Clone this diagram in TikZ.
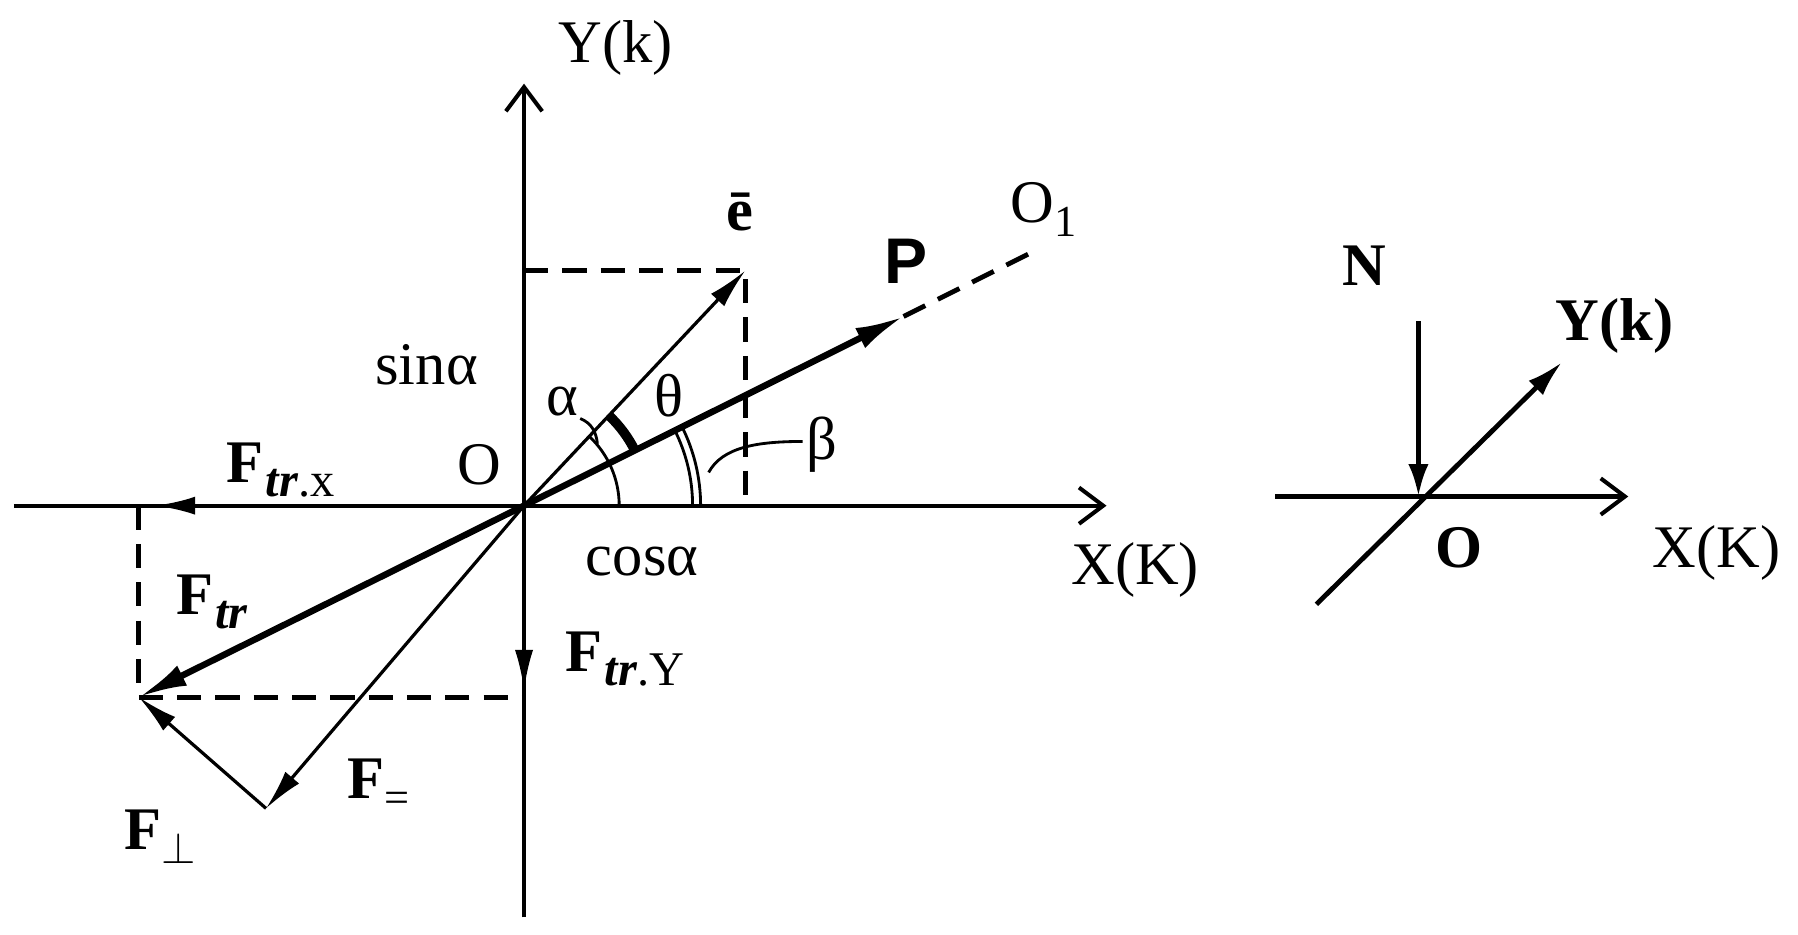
\documentclass[tikz,border=0pt]{standalone}
\usepackage{fontspec}
\setmainfont{Liberation Serif}
\newfontfamily\sansbf{Liberation Sans}
\usepackage{tikz}
\usetikzlibrary{arrows.meta}
\newcommand{\Fsub}[2]{\textbf{F}\kern0.5pt\raisebox{-0.5ex}{\fontsize{12}{12}\selectfont\textbf{\textit{#1}}#2}}

\begin{document}
\begin{tikzpicture}[x=0.01cm,y=0.01cm,
    font=\fontsize{15}{17}\selectfont,
    axis/.style={line width=1pt,-{Straight Barb[length=6pt,width=9pt,line width=1pt]}},
    vecthin/.style={line width=0.8pt,-{Latex[length=10pt,width=4.5pt]}},
    vecthick/.style={line width=1.6pt,-{Latex[length=12pt,width=5.5pt]}},
    guide/.style={line width=1.2pt,dash pattern=on 6pt off 3.5pt}]
    \useasboundingbox (0,0) rectangle (1568,815);
    % main diagram
    \coordinate (O) at (457,374);
    \coordinate (xl) at (12,374);
    \coordinate (xr) at (965,374);
    \coordinate (yt) at (457,742);
    \coordinate (yb) at (457,15);
    \coordinate (etip) at (650,579);
    \coordinate (sinp) at (457,579);
    \coordinate (cosp) at (650,374);
    \coordinate (Ptip) at (788,539);
    \coordinate (O1end) at (904,597);
    \coordinate (Ftr) at (121,207);
    \coordinate (Ftrxfoot) at (121,374);
    \coordinate (Ftrx) at (135,374);
    \coordinate (Ftryfoot) at (457,207);
    \coordinate (Ftry) at (457,213);
    \coordinate (Fpar) at (232,110);
    %
    \draw[axis] (xl) -- (xr);
    \draw[axis] (yb) -- (yt);
    \draw[guide] (sinp) -- (etip) -- (cosp);
    \draw[vecthin] (O) -- (etip);
    \draw[vecthick] (O) -- (Ptip);
    \draw[guide] (Ptip) -- (O1end);
    \draw[vecthick] (O) -- (Ftr);
    \draw[vecthin,line width=1pt] (O) -- (Ftrx);
    \draw[guide] (Ftrxfoot) -- (Ftr) -- (Ftryfoot);
    \draw[vecthin] (O) -- (Ftry);
    \draw[vecthin] (O) -- (Fpar);
    \draw[vecthin] (Fpar) -- (Ftr);
    % angles
    \draw[line width=0.7pt] (O) ++(83,0) arc[start angle=0,end angle=46.7,radius=83];
    \draw[line width=2.4pt] (O) ++(26.5:108) arc[start angle=26.5,end angle=46.7,radius=108];
    \draw[line width=0.7pt] (O) ++(147,0) arc[start angle=0,end angle=26.5,radius=147];
    \draw[line width=0.7pt] (O) ++(154,0) arc[start angle=0,end angle=26.5,radius=154];
    \draw[line width=0.7pt] (506,450) .. controls (516,446) and (520,438) .. (521,428);
    \draw[line width=0.7pt] (618,403) .. controls (630,425) and (660,430) .. (700,430);
    %
    \node (ylab) at (537,773) {Y(k)};
    \node (xlab) at (990,318) {X(K)};
    \node (olab) at (418,410) {O};
    \node (sinlab) at (372,497) {sinα};
    \node (coslab) at (560,325) {cosα};
    \node (elab) at (645,630) {\textbf{\={e}}};
    \node (plab) at (790,587) {\sansbf\bfseries\fontsize{16}{18}\selectfont P};
    \node (o1lab) at (910,632) {O\raisebox{-0.5ex}{\fontsize{11}{11}\selectfont 1}};
    \node (alab) at (490,465) {α};
    \node (tlab) at (583,470) {θ};
    \node (blab) at (717,427) {β};
    \node (ftrxlab) at (245,405) {\Fsub{tr}{.x}};
    \node (ftrlab) at (185,290) {\Fsub{tr}{}};
    \node (ftrylab) at (545,240) {\Fsub{tr}{.Y}};
    \node (fparlab) at (330,130) {\textbf{F}\raisebox{-0.5ex}{\fontsize{11}{11}\selectfont =}};
    \node (fperplab) at (140,85) {\textbf{F}\raisebox{-0.5ex}{$\scriptstyle\perp$}};
    % small diagram
    \coordinate (O2) at (1237,382);
    \coordinate (x2l) at (1112,382);
    \coordinate (x2r) at (1420,382);
    \coordinate (ntop) at (1237,535);
    \coordinate (dl) at (1148,288);
    \coordinate (dr) at (1362,499);
    \draw[axis,line width=1.2pt] (x2l) -- (x2r);
    \draw[line width=1.2pt,-{Latex[length=8pt,width=5pt]}] (ntop) -- (O2);
    \draw[line width=1.2pt,-{Latex[length=9pt,width=5pt]}] (dl) -- (dr);
    \node (nlab) at (1190,583) {\textbf{N}};
    \node (y2lab) at (1408,531) {\textbf{Y(k)}};
    \node (x2lab) at (1497,333) {X(K)};
    \node (o2lab) at (1272,337) {\textbf{O}};
\end{tikzpicture}
\end{document}
